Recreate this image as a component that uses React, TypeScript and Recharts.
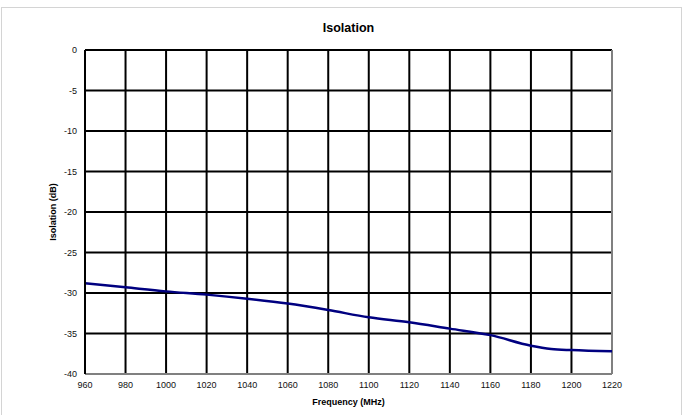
import React from 'react';
import { LineChart, Line, XAxis, YAxis, CartesianGrid, ReferenceLine } from 'recharts';

const freqs = [960, 980, 1000, 1020, 1040, 1060, 1080, 1100, 1120, 1140, 1160, 1180, 1190, 1200, 1220];
const isolation = [-28.8, -29.3, -29.8, -30.2, -30.7, -31.3, -32.1, -33.0, -33.6, -34.4, -35.2, -36.5, -36.9, -37.05, -37.2];

const xTicks = [960, 980, 1000, 1020, 1040, 1060, 1080, 1100, 1120, 1140, 1160, 1180, 1200, 1220];
const yTicks = [0, -5, -10, -15, -20, -25, -30, -35, -40];

const data = freqs.map((f, i) => ({ freq: f, value: isolation[i] }));

const FONT = '"Liberation Sans", Arial, sans-serif';

const App: React.FC = () => {
  return (
    <div style={{ position: 'absolute', left: 0, top: 0, width: 684, height: 415, overflow: 'hidden', background: '#fff', fontFamily: FONT }}>
      {/* outer frame, bottom edge falls outside the picture */}
      <div style={{ position: 'absolute', left: 1, top: 7, width: 679, height: 420, border: '1.5px solid #d4d4d4' }} />

      <LineChart
        width={684}
        height={415}
        data={data}
        margin={{ top: 50, right: 72, left: 40, bottom: 11 }}
        style={{ position: 'absolute', left: 0, top: 0 }}
      >
        <CartesianGrid stroke="#000" strokeWidth={2} horizontalValues={yTicks} verticalValues={xTicks} />
        <XAxis
          dataKey="freq"
          type="number"
          domain={[960, 1220]}
          ticks={xTicks}
          tickLine={false}
          tickSize={6}
          axisLine={{ stroke: '#808080', strokeWidth: 2 }}
          height={30}
          tick={{ fontSize: 9, fill: '#111', fontFamily: FONT }}
          interval={0}
        />
        <YAxis
          type="number"
          domain={[-40, 0]}
          ticks={yTicks}
          tickLine={false}
          axisLine={{ stroke: '#000', strokeWidth: 2 }}
          width={45}
          tick={{ fontSize: 9, fill: '#111', fontFamily: FONT }}
          interval={0}
        />
        <ReferenceLine x={1220} stroke="#808080" strokeWidth={2} />
        <Line
          type="monotone"
          dataKey="value"
          stroke="#000080"
          strokeWidth={2.5}
          dot={false}
          isAnimationActive={false}
        />
      </LineChart>

      <div style={{ position: 'absolute', left: 0, width: 697, top: 21, textAlign: 'center', fontWeight: 'bold', fontSize: 12.5 }}>
        Isolation
      </div>
      <div style={{ position: 'absolute', left: 0, width: 697, top: 397, textAlign: 'center', fontWeight: 'bold', fontSize: 9 }}>
        Frequency (MHz)
      </div>
      <div
        style={{
          position: 'absolute',
          left: 53,
          top: 212,
          transform: 'translate(-50%, -50%) rotate(-90deg)',
          whiteSpace: 'nowrap',
          fontWeight: 'bold',
          fontSize: 9,
        }}
      >
        Isolation (dB)
      </div>
    </div>
  );
};

export default App;
